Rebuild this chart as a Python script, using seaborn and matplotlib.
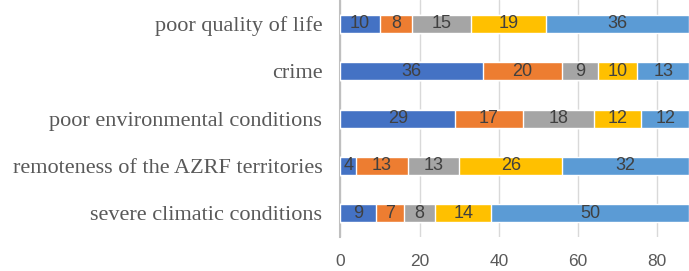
import matplotlib
matplotlib.use("Agg")
import matplotlib.pyplot as plt
import seaborn as sns
import pandas as pd
import numpy as np

categories = ["poor quality of life", "crime", "poor environmental conditions",
              "remoteness of the AZRF territories", "severe climatic conditions"]
s1 = [10, 36, 29, 4, 9]
s2 = [8, 20, 17, 13, 7]
s3 = [15, 9, 18, 13, 8]
s4 = [19, 10, 12, 26, 14]
s5 = [36, 13, 12, 32, 50]
series = [s1, s2, s3, s4, s5]
colors = ["#4472C4", "#ED7D31", "#A5A5A5", "#FFC000", "#5B9BD5"]
xticks = [0, 20, 40, 60, 80]

sns.set_theme(style="white")

vals = np.array(series, dtype=float)
cum = np.cumsum(vals, axis=0)

fig = plt.figure(figsize=(6.89, 2.71), dpi=100)
ax = fig.add_axes([0.494, 0.125, 0.506, 0.875])

# draw from the full total down so every segment shows
for k in range(len(series) - 1, -1, -1):
    df = pd.DataFrame({"category": categories, "value": cum[k]})
    sns.barplot(data=df, x="value", y="category", orient="h", color=colors[k],
                saturation=1, width=0.38, ax=ax, zorder=3)

for k in range(len(series)):
    for i in range(len(categories)):
        ax.text(cum[k][i] - vals[k][i] / 2, i, str(int(vals[k][i])),
                ha="center", va="center", fontsize=13, color="#404040",
                family=["Liberation Sans", "DejaVu Sans"], zorder=5)

ax.set_xlim(0, 88)
ax.set_ylim(4.5, -0.5)
ax.set_xticks(xticks)
ax.set_xlabel("")
ax.set_ylabel("")
ax.xaxis.grid(True, color="#D9D9D9", linewidth=1, zorder=0)
ax.set_axisbelow(True)
for side in ["top", "right", "bottom"]:
    ax.spines[side].set_visible(False)
ax.spines["left"].set_color("#BFBFBF")
ax.spines["left"].set_linewidth(1.5)
ax.tick_params(axis="x", length=0, pad=12, labelsize=12.5, labelcolor="#595959")
ax.tick_params(axis="y", length=0, pad=13, labelsize=16, labelcolor="#595959")
for t in ax.get_yticklabels():
    t.set_family(["Liberation Serif", "DejaVu Serif"])
for t in ax.get_xticklabels():
    t.set_family(["Liberation Sans", "DejaVu Sans"])

fig.savefig("out.png", dpi=100)
